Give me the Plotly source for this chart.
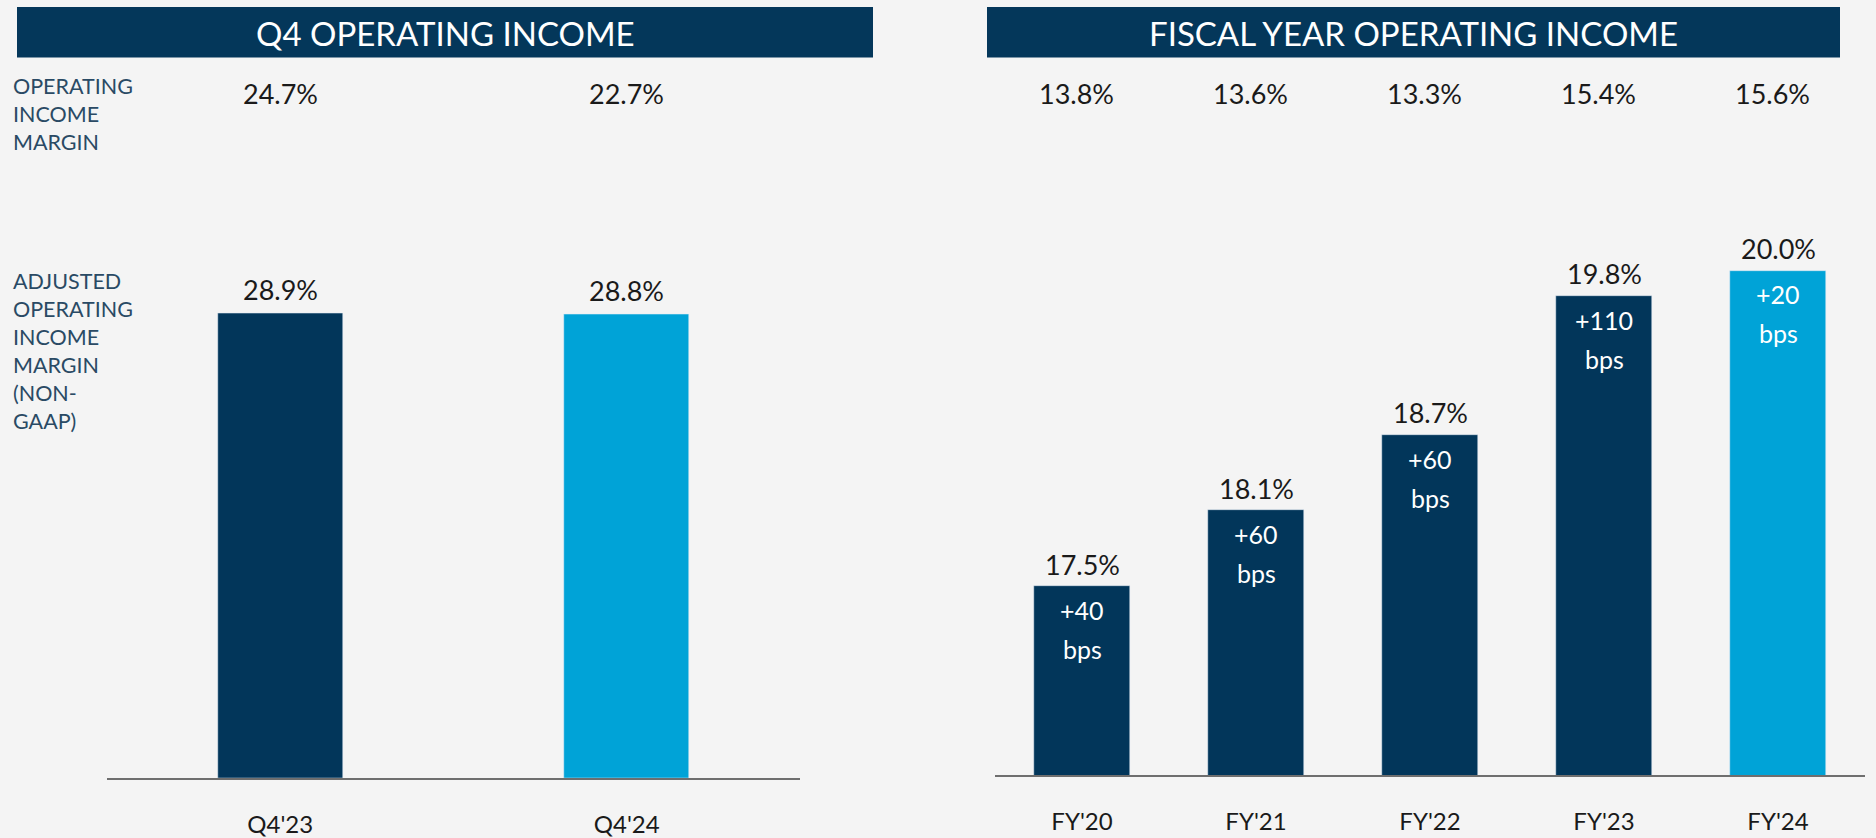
import plotly.graph_objects as go

# ---- data ----
q4_categories = ["Q4'23", "Q4'24"]
q4_op_margin = ["24.7%", "22.7%"]
q4_adj_margin = [28.9, 28.8]

fy_categories = ["FY'20", "FY'21", "FY'22", "FY'23", "FY'24"]
fy_op_margin = ["13.8%", "13.6%", "13.3%", "15.4%", "15.6%"]
fy_adj_margin = [17.5, 18.1, 18.7, 19.8, 20.0]
fy_change = ["+40 bps", "+60 bps", "+60 bps", "+110 bps", "+20 bps"]

left_title = "Q4 OPERATING INCOME"
right_title = "FISCAL YEAR OPERATING INCOME"
row_label_top = "OPERATING<br>INCOME<br>MARGIN"
row_label_bottom = "ADJUSTED<br>OPERATING<br>INCOME<br>MARGIN<br>(NON-<br>GAAP)"

# ---- style ----
W, H = 1876, 838
BG = "#F4F4F4"
NAVY = "#02365A"
LIGHT = "#00A3D7"
BANNER = "#04375A"
TXT = "#1A1A1A"
LBL = "#2A4A64"
FONT = "Lato"

def px_x(x):
    return x / W

def px_y(y):
    return (H - y) / H

q4_colors = [NAVY, LIGHT]
fy_colors = [NAVY] * (len(fy_categories) - 1) + [LIGHT]

fig = go.Figure()
fig.add_trace(go.Bar(x=q4_categories, y=q4_adj_margin, marker_color=q4_colors,
                     width=0.36, xaxis="x", yaxis="y", hoverinfo="skip"))
fig.add_trace(go.Bar(x=fy_categories, y=fy_adj_margin, marker_color=fy_colors,
                     width=0.55, xaxis="x2", yaxis="y2", hoverinfo="skip"))

annotations = []
shapes = []

# banners
for (x0, x1, title) in [(17, 873, left_title), (987, 1840, right_title)]:
    shapes.append(dict(type="rect", xref="paper", yref="paper",
                       x0=px_x(x0), x1=px_x(x1), y0=px_y(58), y1=px_y(7),
                       fillcolor=BANNER, line_width=0, layer="below"))
    annotations.append(dict(xref="paper", yref="paper", x=px_x((x0 + x1) / 2), y=px_y(33),
                            text=title, showarrow=False, xanchor="center", yanchor="middle",
                            font=dict(family=FONT, size=33, color="white")))

# row labels
annotations.append(dict(xref="paper", yref="paper", x=px_x(11), y=px_y(72),
                        text=row_label_top, showarrow=False, xanchor="left", yanchor="top",
                        align="left", font=dict(family=FONT, size=21.5, color=LBL)))
annotations.append(dict(xref="paper", yref="paper", x=px_x(11), y=px_y(268),
                        text=row_label_bottom, showarrow=False, xanchor="left", yanchor="top",
                        align="left", font=dict(family=FONT, size=21.5, color=LBL)))

# top-row operating income margins
for c, t in zip(q4_categories, q4_op_margin):
    annotations.append(dict(xref="x", yref="paper", x=c, y=px_y(94), text=t, showarrow=False,
                            yanchor="middle", font=dict(family=FONT, size=27, color=TXT)))
for c, t in zip(fy_categories, fy_op_margin):
    annotations.append(dict(xref="x2", yref="paper", x=c, y=px_y(94), text=t, showarrow=False,
                            xshift=-6, yanchor="middle", font=dict(family=FONT, size=27, color=TXT)))

# value labels above bars
for c, v in zip(q4_categories, q4_adj_margin):
    annotations.append(dict(xref="x", yref="y", x=c, y=v, text=f"{v:.1f}%", showarrow=False,
                            yanchor="middle", yshift=24, font=dict(family=FONT, size=27, color=TXT)))
for c, v in zip(fy_categories, fy_adj_margin):
    annotations.append(dict(xref="x2", yref="y2", x=c, y=v, text=f"{v:.1f}%", showarrow=False,
                            yanchor="middle", yshift=22, font=dict(family=FONT, size=27, color=TXT)))

# change labels inside bars
for c, v, ch in zip(fy_categories, fy_adj_margin, fy_change):
    parts = ch.split(" ")
    for i, p in enumerate(parts):
        annotations.append(dict(xref="x2", yref="y2", x=c, y=v, text=p, showarrow=False,
                                yanchor="middle", yshift=-(24 + 39 * i),
                                font=dict(family=FONT, size=25, color="white")))

axis_common = dict(showgrid=False, zeroline=False, showline=True, linecolor="#6E6E6E",
                   linewidth=2, ticks="", tickfont=dict(family=FONT, size=24, color=TXT),
                   ticklabelstandoff=24, fixedrange=True)

fig.update_layout(
    width=W, height=H,
    margin=dict(l=0, r=0, t=0, b=0),
    paper_bgcolor=BG, plot_bgcolor=BG,
    showlegend=False,
    bargap=0,
    xaxis=dict(domain=[px_x(107), px_x(800)], anchor="y", **axis_common),
    yaxis=dict(domain=[px_y(785), px_y(297.8)], range=[0, 30], visible=False, fixedrange=True),
    xaxis2=dict(domain=[px_x(995), px_x(1865)], anchor="y2", **axis_common),
    yaxis2=dict(domain=[px_y(782), px_y(221.8)], range=[16, 20.4], visible=False, fixedrange=True),
    annotations=annotations,
    shapes=shapes,
)

fig.write_html("out.html", config={"displayModeBar": False},
               post_script="document.body.style.margin='0';document.body.style.background='#F4F4F4';document.body.style.overflow='hidden';")
